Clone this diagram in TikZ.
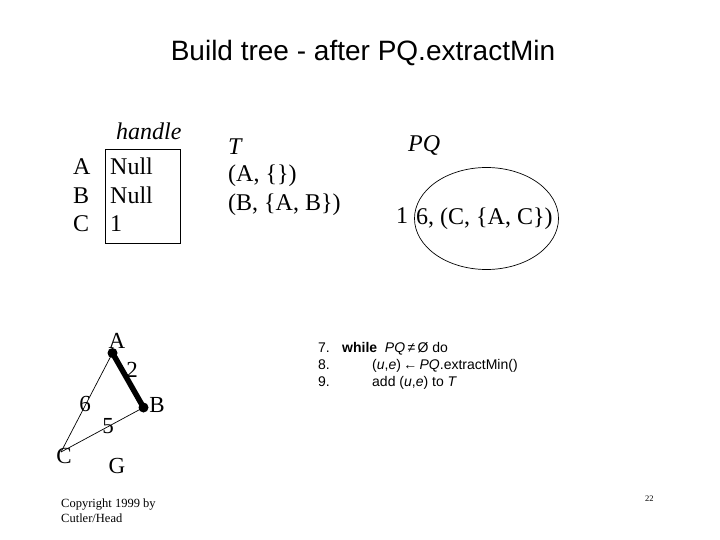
\documentclass[tikz,border=0pt]{standalone}
\usepackage{fontspec}
\usetikzlibrary{shapes.geometric}
\setmainfont{Liberation Serif}
\newfontfamily\arial{Liberation Sans}
\tikzset{
  sr/.style={inner sep=0pt, anchor=base west, font=\fontsize{24}{24}\selectfont},
  lbl/.style={inner sep=0pt, font=\fontsize{23}{23}\selectfont},
  code/.style={inner sep=0pt, anchor=base west, font=\arial\fontsize{14}{14}\selectfont},
  cp/.style={inner sep=0pt, anchor=base west, font=\fontsize{12.5}{12.5}\selectfont},
  dot/.style={circle, fill=black, inner sep=0pt, minimum size=10pt},
  thin edge/.style={line width=0.7pt},
  thick edge/.style={line width=5.5pt}
}
\begin{document}
\begin{tikzpicture}[x=1pt,y=-1pt]
\useasboundingbox[fill=white] (0,0) rectangle (720,540);
% title
\node[inner sep=0pt, anchor=base, font=\arial\fontsize{28}{28}\selectfont] (title) at (363,61) {Build tree - after PQ.extractMin};
% handle table
\node[sr, font=\itshape\fontsize{24}{24}\selectfont] (handle) at (116,140) {handle};
\draw[line width=0.7pt] (105,149) rectangle (180,243);
\node[sr] (ha) at (73,175) {A};
\node[sr] (hb) at (73,203.5) {B};
\node[sr] (hc) at (73,232) {C};
\node[sr] (va) at (110,175) {Null};
\node[sr] (vb) at (110,203.5) {Null};
\node[sr] (vc) at (110,232) {1};
% T
\node[sr, font=\itshape\fontsize{24}{24}\selectfont] (T) at (228,155) {T};
\node[sr] (t1) at (228,182) {(A, \{\})};
\node[sr] (t2) at (228,211) {(B, \{A, B\})};
% PQ
\node[sr, font=\itshape\fontsize{24}{24}\selectfont] (PQ) at (408,152) {PQ};
\node[draw, ellipse, line width=0.7pt, minimum width=144pt, minimum height=102pt, inner sep=0pt] (ell) at (486.5,218.5) {};
\node[sr] (one) at (396,223) {1};
\node[sr] (pq1) at (416,225) {6, (C, \{A, C\})};
% graph
\node[dot] (A) at (112.5,353) {};
\node[dot] (B) at (143.5,407.5) {};
\coordinate (C) at (61,452);
\draw[thick edge] (A.center) -- (B.center);
\draw[thin edge] (A.center) -- (C);
\draw[thin edge] (B.center) -- (C);
\node[lbl] (la) at (117,341) {A};
\node[lbl] (lb) at (157,405) {B};
\node[lbl] (lc) at (64,456) {C};
\node[lbl] (w2) at (132,370) {2};
\node[lbl] (w6) at (85,404) {6};
\node[lbl] (w5) at (108,426) {5};
\node[lbl] (lg) at (117,466) {G};
% pseudocode
\node[code] (l7n) at (318,352) {7.};
\node[code] (l7) at (342,352) {\textbf{while}\ \ \textit{PQ}\,≠\,Ø do};
\node[code] (l8n) at (318,369) {8.};
\node[code] (l8) at (372,369) {(\textit{u},\textit{e})\,←\,\textit{PQ}.extractMin()};
\node[code] (l9n) at (318,386) {9.};
\node[code] (l9) at (372,386) {add (\textit{u},\textit{e}) to \textit{T}};
% copyright
\node[cp] (cp1) at (61,507) {Copyright 1999 by};
\node[cp] (cp2) at (61,522) {Cutler/Head};
\node[inner sep=0pt, anchor=base west, font=\fontsize{8.5}{8.5}\selectfont] (pg) at (645,501) {22};
\end{tikzpicture}
\end{document}
